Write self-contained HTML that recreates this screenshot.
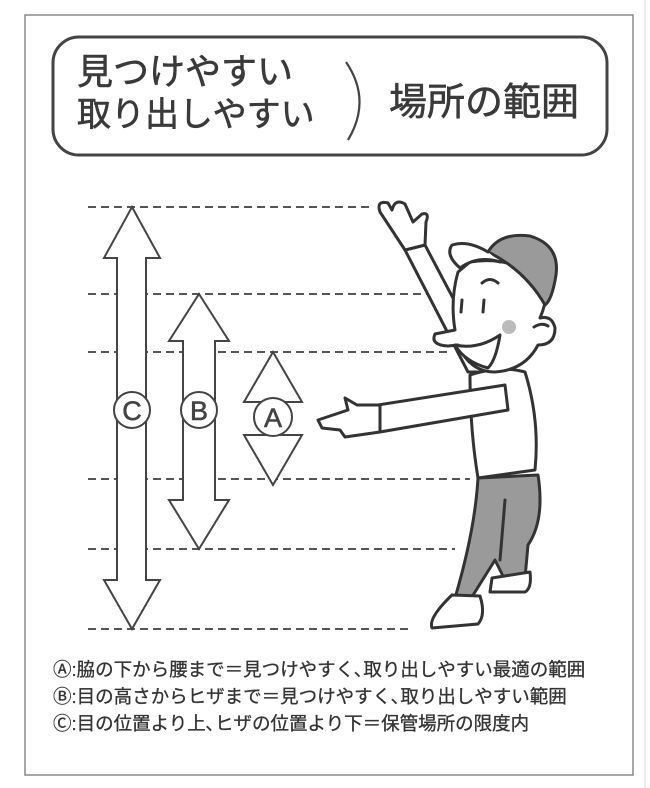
<!DOCTYPE html>
<html><head><meta charset="utf-8"><style>
html,body{margin:0;padding:0;background:#fff;}
body{width:650px;height:788px;position:relative;overflow:hidden;font-family:"Liberation Sans","Noto Sans CJK JP",sans-serif;color:#333;}
.t{position:absolute;white-space:nowrap;-webkit-text-stroke:0.6px #3a3a3a;}
</style></head><body>
<svg width="650" height="788" style="position:absolute;left:0;top:0">
<rect x="25" y="15" width="608" height="760" fill="none" stroke="#888" stroke-width="1.5"/>
<line x1="645" y1="0" x2="645" y2="788" stroke="#ddd" stroke-width="1"/>
<rect x="53" y="37" width="554" height="118" rx="26" fill="none" stroke="#444" stroke-width="3"/>
<path d="M346 62 Q372 100 348 140" fill="none" stroke="#444" stroke-width="2.2"/>
<g stroke="#555" stroke-width="2" stroke-dasharray="8,5" fill="none">
<line x1="88" y1="207" x2="372" y2="207"/>
<line x1="88" y1="294" x2="448" y2="294"/>
<line x1="88" y1="352" x2="448" y2="352"/>
<line x1="88" y1="479" x2="470" y2="479"/>
<line x1="88" y1="549" x2="455" y2="549"/>
<line x1="88" y1="629" x2="412" y2="629"/>
</g>
<g fill="#fff" stroke="#444" stroke-width="2">
<polygon points="132,207 160,258 146,258 146,580 160,580 132,629 104,580 117,580 117,258 104,258"/>
<polygon points="199,294 229,341 215,341 215,500 229,500 199,549 169,500 183,500 183,341 169,341"/>
<polygon points="273,352 302,402 244,402"/>
<polygon points="244,435 302,435 273,485"/>
<circle cx="132" cy="410" r="18"/>
<circle cx="199" cy="410" r="18"/>
<circle cx="273" cy="417" r="19"/>
</g>
<g font-family="Liberation Sans,sans-serif" font-size="27" fill="#444" text-anchor="middle" stroke="#444" stroke-width="0.6">
<text x="132" y="420">C</text><text x="199" y="420">B</text><text x="273" y="427">A</text>
</g>
<g stroke="#333" stroke-width="3" stroke-linejoin="round" stroke-linecap="round">
<path d="M405 250 L468 372 L492 372 L425 245 Z" fill="#fff"/>
<path d="M380 212 Q376 200 388 203 L392 210 Q395 198 405 204 L413 222 L422 214 Q430 212 426 222 L425 245 L405 250 Z" fill="#fff"/>
<path d="M470 375 Q500 365 525 372 Q540 420 535 470 L478 478 Q470 430 470 375 Z" fill="#fff"/>
<path d="M378 405 L505 385 L508 410 L380 432 Z" fill="#fff"/>
<path d="M380 405 L357 405 L345 398 L348 410 L318 420 L322 428 L340 430 L345 437 L380 432 Z" fill="#fff"/>
<path d="M478 478 L538 475 Q545 520 528 545 L525 578 L505 580 L495 560 L470 600 L455 598 Q475 530 478 478 Z" fill="#9a9a9a"/>
<path d="M505 500 L500 560" fill="none"/>
<path d="M492 578 L530 572 Q532 588 525 592 L490 592 Z" fill="#fff"/>
<path d="M452 595 L480 596 Q486 615 478 624 L432 628 Q428 618 452 595 Z" fill="#fff"/>
<path d="M458 272 Q450 300 455 330 L435 334 Q430 345 448 346 L458 345 Q470 372 495 372 Q525 370 538 345 Q555 345 555 328 Q552 315 540 318 Q548 300 545 285 Q515 255 470 262 Z" fill="#fff"/>
<path d="M488 252 Q500 232 530 236 Q560 245 556 275 Q552 300 545 305 Q525 270 488 252 Z" fill="#9a9a9a"/>
<path d="M488 252 Q468 240 452 245 Q445 255 460 268 Q478 255 500 262" fill="#fff"/>
<path d="M455 345 Q478 350 500 335 Q496 360 488 368 Q465 362 455 345 Z" fill="#fff"/>
<line x1="462" y1="300" x2="461" y2="312" fill="none"/>
<line x1="484" y1="300" x2="483" y2="312" fill="none"/>
<path d="M482 283 Q490 276 498 283" fill="none"/>
<path d="M534 327 Q542 322 548 326" fill="none"/>
</g>
<circle cx="509" cy="327" r="7" fill="#bbb"/>
</svg>
<div class="t" style="left:77px;top:50px;font-size:36px;line-height:43px;color:#3a3a3a">見つけやすい</div>
<div class="t" style="left:77px;top:94px;font-size:34px;line-height:43px;color:#3a3a3a">取り出しやすい</div>
<div class="t" style="left:389px;top:71px;font-size:38px;color:#3a3a3a">場所の範囲</div>
<div class="t" style="left:53px;top:656px;font-size:18.5px;line-height:27px;color:#333;-webkit-text-stroke:0.3px #333">Ⓐ:脇の下から腰まで＝見つけやすく､取り出しやすい最適の範囲<br>Ⓑ:目の高さからヒザまで＝見つけやすく､取り出しやすい範囲<br>Ⓒ:目の位置より上､ヒザの位置より下＝保管場所の限度内</div>
</body></html>
